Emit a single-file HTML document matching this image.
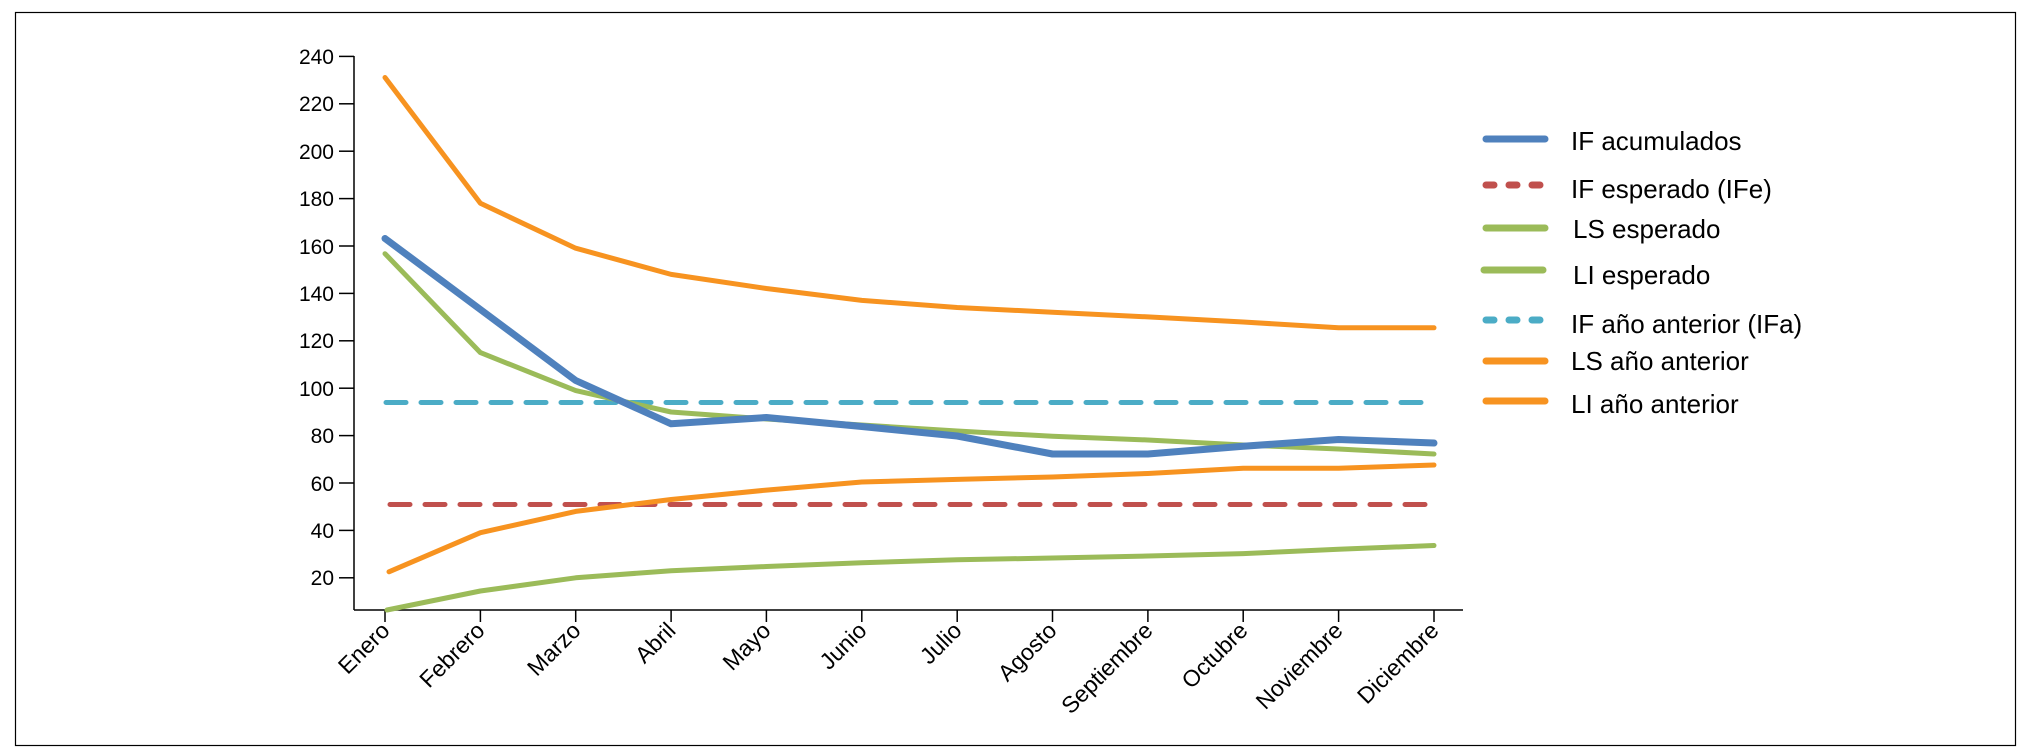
<!DOCTYPE html>
<html><head><meta charset="utf-8"><style>
html,body{margin:0;padding:0;background:#fff;}
svg{display:block;font-family:"Liberation Sans",Arial,sans-serif;}
</style></head><body>
<svg width="2036" height="756" viewBox="0 0 2036 756" xmlns="http://www.w3.org/2000/svg">
<rect x="15.5" y="12.5" width="2000" height="733" fill="#fff" stroke="#000" stroke-width="1.2"/>
<g stroke="#000" stroke-width="1.5" fill="none">
<line x1="354" y1="56" x2="354" y2="610"/>
<line x1="354" y1="610" x2="1463" y2="610"/>
<line x1="339" y1="56.4" x2="354" y2="56.4"/><line x1="339" y1="103.8" x2="354" y2="103.8"/>
<line x1="339" y1="151.2" x2="354" y2="151.2"/><line x1="339" y1="198.6" x2="354" y2="198.6"/>
<line x1="339" y1="246" x2="354" y2="246"/><line x1="339" y1="293.4" x2="354" y2="293.4"/>
<line x1="339" y1="340.8" x2="354" y2="340.8"/><line x1="339" y1="388.2" x2="354" y2="388.2"/>
<line x1="339" y1="435.6" x2="354" y2="435.6"/><line x1="339" y1="483" x2="354" y2="483"/>
<line x1="339" y1="530.4" x2="354" y2="530.4"/><line x1="339" y1="577.8" x2="354" y2="577.8"/>
</g>
<g font-size="21" text-anchor="end" fill="#000">
<text x="334" y="64">240</text><text x="334" y="111">220</text><text x="334" y="159">200</text>
<text x="334" y="206">180</text><text x="334" y="254">160</text><text x="334" y="301">140</text>
<text x="334" y="348">120</text><text x="334" y="396">100</text><text x="334" y="443">80</text>
<text x="334" y="491">60</text><text x="334" y="538">40</text><text x="334" y="585">20</text>
</g>
<g stroke="#000" stroke-width="1.5">
<line x1="385" y1="610" x2="385" y2="622"/><line x1="480.4" y1="610" x2="480.4" y2="622"/>
<line x1="575.7" y1="610" x2="575.7" y2="622"/><line x1="671.1" y1="610" x2="671.1" y2="622"/>
<line x1="766.4" y1="610" x2="766.4" y2="622"/><line x1="861.8" y1="610" x2="861.8" y2="622"/>
<line x1="957.2" y1="610" x2="957.2" y2="622"/><line x1="1052.5" y1="610" x2="1052.5" y2="622"/>
<line x1="1147.9" y1="610" x2="1147.9" y2="622"/><line x1="1243.2" y1="610" x2="1243.2" y2="622"/>
<line x1="1338.6" y1="610" x2="1338.6" y2="622"/><line x1="1434" y1="610" x2="1434" y2="622"/>
</g>
<g font-size="23" text-anchor="end" fill="#000">
<text transform="translate(391,632) rotate(-45)">Enero</text>
<text transform="translate(486,632) rotate(-45)">Febrero</text>
<text transform="translate(582,632) rotate(-45)">Marzo</text>
<text transform="translate(677,632) rotate(-45)">Abril</text>
<text transform="translate(772,632) rotate(-45)">Mayo</text>
<text transform="translate(868,632) rotate(-45)">Junio</text>
<text transform="translate(963,632) rotate(-45)">Julio</text>
<text transform="translate(1058,632) rotate(-45)">Agosto</text>
<text transform="translate(1154,632) rotate(-45)">Septiembre</text>
<text transform="translate(1249,632) rotate(-45)">Octubre</text>
<text transform="translate(1344,632) rotate(-45)">Noviembre</text>
<text transform="translate(1440,632) rotate(-45)">Diciembre</text>
</g>
<g fill="none" stroke-linecap="round" stroke-linejoin="round">
<line x1="386" y1="402.5" x2="1433" y2="402.5" stroke="#4bacc6" stroke-width="5" stroke-dasharray="20 15"/>
<line x1="390" y1="504.5" x2="1433" y2="504.5" stroke="#c0504d" stroke-width="5" stroke-dasharray="20 15"/>
<polyline stroke="#f79320" stroke-width="5" points="385,77.5 480.4,203.3 575.7,248.2 671.1,274.4 766.4,288.5 861.8,300.4 957.2,307.5 1052.5,312.2 1147.9,316.9 1243.2,322 1338.6,327.8 1434,327.8"/>
<polyline stroke="#f79320" stroke-width="5" points="389,571.8 480.4,532.7 575.7,511.4 671.1,499.5 766.4,490.1 861.8,482 957.2,479.4 1052.5,477 1147.9,473.5 1243.2,468.3 1338.6,468.3 1434,465"/>
<polyline stroke="#9bbb59" stroke-width="5" points="387,610 480.4,591 575.7,577.8 671.1,570.7 766.4,566.5 861.8,562.7 957.2,559.8 1052.5,558 1147.9,556 1243.2,553.6 1338.6,549.3 1434,545.5"/>
<polyline stroke="#9bbb59" stroke-width="5" points="385,253.7 480.4,352.6 575.7,390.6 671.1,412 766.4,419 861.8,425 957.2,431 1052.5,436.3 1147.9,440 1243.2,445 1338.6,449 1434,454"/>
<polyline stroke="#4f81bd" stroke-width="7" points="385,238.5 480.4,309.5 575.7,380.5 671.1,423.8 766.4,417.5 861.8,426.5 957.2,436 1052.5,454 1147.9,454 1243.2,446.3 1338.6,439.5 1434,443"/>
</g>
<g stroke-linecap="round" stroke-width="7">
<line x1="1486" y1="139" x2="1545" y2="139" stroke="#4f81bd"/>
<line x1="1486" y1="185" x2="1545" y2="185" stroke="#c0504d" stroke-dasharray="8 15"/>
<line x1="1486" y1="228" x2="1545" y2="228" stroke="#9bbb59"/>
<line x1="1484" y1="270" x2="1543" y2="270" stroke="#9bbb59"/>
<line x1="1486" y1="320" x2="1545" y2="320" stroke="#4bacc6" stroke-dasharray="8 15"/>
<line x1="1486" y1="361" x2="1545" y2="361" stroke="#f79320"/>
<line x1="1486" y1="401" x2="1545" y2="401" stroke="#f79320"/>
</g>
<g font-size="26" fill="#000">
<text x="1571" y="150">IF acumulados</text>
<text x="1571" y="198">IF esperado (IFe)</text>
<text x="1573" y="238">LS esperado</text>
<text x="1573" y="284">LI esperado</text>
<text x="1571" y="333">IF año anterior (IFa)</text>
<text x="1571" y="370">LS año anterior</text>
<text x="1571" y="413">LI año anterior</text>
</g>
</svg>
</body></html>
